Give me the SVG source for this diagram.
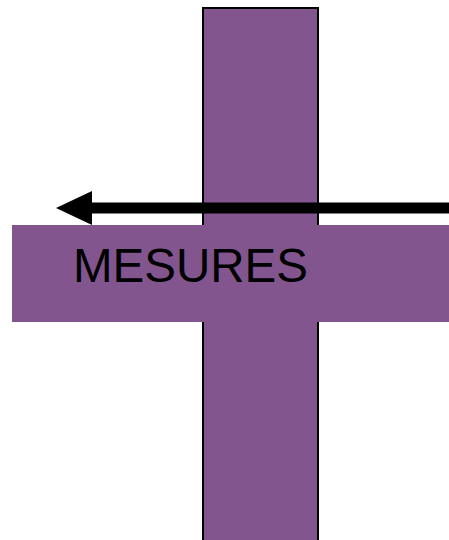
<svg xmlns="http://www.w3.org/2000/svg" width="449" height="540" viewBox="0 0 449 540">
<style>
.bar{fill:#83558f}
.lbl{font-family:"Liberation Sans",Arial,sans-serif;font-size:47.5px;fill:#000}
</style>
<defs>
<marker id="ah" markerUnits="userSpaceOnUse" markerWidth="36" markerHeight="34" refX="0" refY="17" orient="auto" overflow="visible">
<path d="M0,0 L36,17 L0,34 Z" fill="#000"/>
</marker>
</defs>
<g id="vertical">
<rect class="bar" x="203" y="8" width="115" height="540" stroke="#000" stroke-width="2"/>
</g>
<g id="connectors">
<line x1="449" y1="208" x2="92" y2="208" stroke="#000" stroke-width="11" marker-end="url(#ah)"/>
</g>
<g id="mesures">
<rect class="bar" x="12" y="225" width="437" height="97"/>
<text class="lbl" x="73" y="282">MESURES</text>
</g>
</svg>
